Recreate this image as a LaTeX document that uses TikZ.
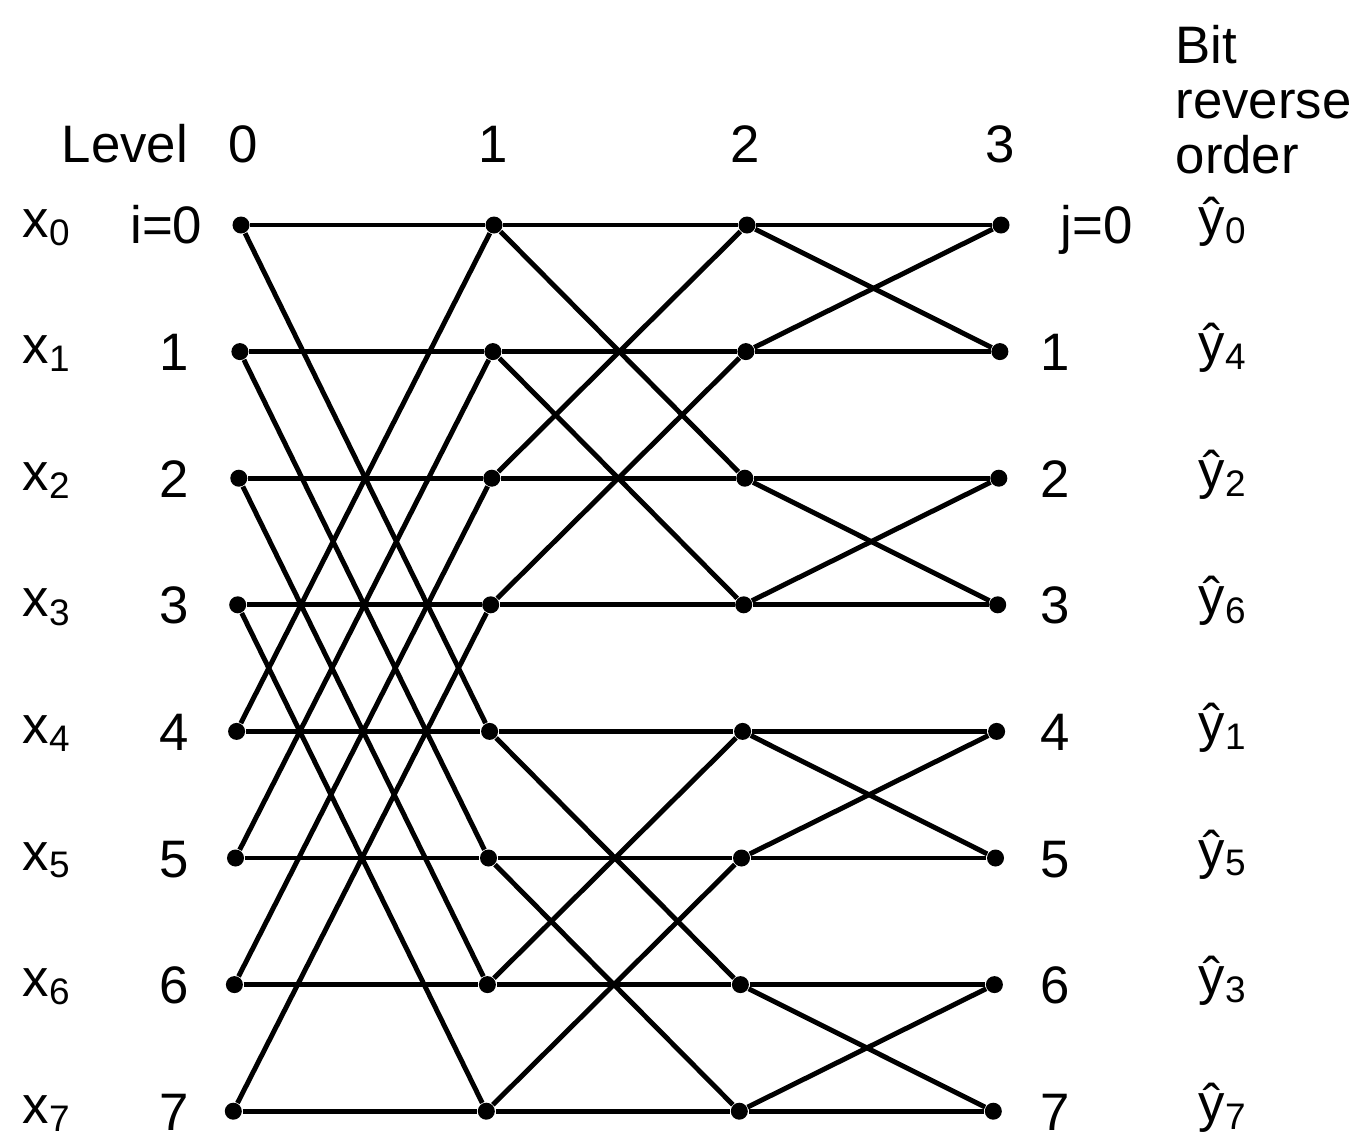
\documentclass[tikz,border=0pt]{standalone}
\usepackage{fontspec}
\setmainfont{Liberation Sans}
\tikzset{
  dot/.style={circle, fill=black, inner sep=0pt, minimum size=0.17cm},
  wire/.style={line width=1.4pt},
  lbl/.style={font=\fontsize{15}{17}\selectfont, inner sep=0pt}
}
\begin{document}
\begin{tikzpicture}[x=0.01cm, y=-0.01cm]
\useasboundingbox (0,0) rectangle (1352,1139);

% Points
\foreach \c/\cx in {0/241,1/494,2/747,3/1001}
  \foreach \r in {0,...,7}
    \node[dot] (p\c-\r) at ({\cx-1.1*\r}, {225+126.6*\r}) {};

% Butterflies
\foreach \c/\d in {0/4,1/2,2/1} {
  \pgfmathtruncatemacro\n{\c+1}
  \foreach \r in {0,...,7} {
    \pgfmathtruncatemacro\q{\r+\d*(1-2*mod(floor(\r/\d),2))}
    \draw[wire] (p\c-\r) -- (p\n-\r);
    \draw[wire] (p\c-\r) -- (p\n-\q);
  }
}

% Levels
\node[lbl, anchor=base] (lvl) at (125,162) {Level};
\foreach \c/\cx in {0/243,1/493,2/745,3/1000}
  \node[lbl, anchor=base] (l\c) at (\cx,162) {\c};

% Header
\node[lbl, anchor=base west] (bit) at (1175,63) {Bit};
\node[lbl, anchor=base west] (rev) at (1175,118) {reverse};
\node[lbl, anchor=base west] (ord) at (1175,173) {order};

% Inputs and outputs
\node[lbl, anchor=base east] (i0) at (203,243) {i=0};
\node[lbl, anchor=base west] (j0) at (1060,243) {j=0};
\foreach \r in {1,...,7} {
  \pgfmathsetmacro\yy{225+126.6*\r}
  \node[lbl, anchor=base east] (i\r) at (190,\yy+19) {\r};
  \node[lbl, anchor=base west] (j\r) at (1040,\yy+19) {\r};
}
\foreach \r/\b in {0/0,1/4,2/2,3/6,4/1,5/5,6/3,7/7} {
  \pgfmathsetmacro\yy{225+126.6*\r}
  \node[lbl, anchor=base west] (x\r) at (22,\yy+12) {x\textsubscript{\r}};
  \node[lbl, anchor=base west] (y\r) at (1198,\yy+10) {\^{y}\textsubscript{\b}};
}

\end{tikzpicture}
\end{document}
